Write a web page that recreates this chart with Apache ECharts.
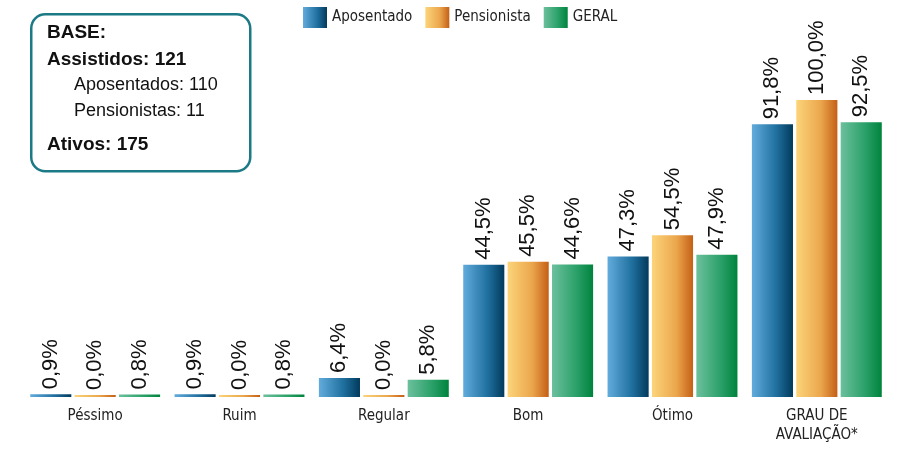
<!DOCTYPE html>
<html>
<head>
<meta charset="utf-8">
<title>Grau de avaliação</title>
<script src="https://cdn.jsdelivr.net/npm/echarts@6/dist/echarts.min.js"></script>
<style>
  html, body { margin: 0; padding: 0; background: #fff; }
  #main { width: 900px; height: 450px; }
</style>
</head>
<body>
<div id="main"></div>
<script type="text/javascript">
// dados
var categorias = ['Péssimo', 'Ruim', 'Regular', 'Bom', 'Ótimo', 'GRAU DE\nAVALIAÇÃO*'];
var aposentado = [0.9, 0.9, 6.4, 44.5, 47.3, 91.8];
var pensionista = [0.0, 0.0, 0.0, 45.5, 54.5, 100.0];
var geral = [0.8, 0.8, 5.8, 44.6, 47.9, 92.5];
var nomesSeries = ['Aposentado', 'Pensionista', 'GERAL'];
var baseLinhas = ['BASE:', 'Assistidos: 121', 'Aposentados: 110', 'Pensionistas: 11', 'Ativos: 175'];

var narrow = "'Liberation Sans Narrow', 'DejaVu Sans Condensed', sans-serif";

function grad(c1, c2, c3) {
	return {
		type: 'linear', x: 0, y: 0, x2: 1, y2: 0,
		colorStops: [
			{ offset: 0, color: c1 },
			{ offset: 0.6, color: c2 },
			{ offset: 1, color: c3 }
		]
	};
}
var cores = [
	grad('#62acdc', '#1f6f9e', '#023a5c'),
	grad('#fcd47a', '#eba64c', '#c45f16'),
	grad('#6cc09d', '#2aa068', '#00833d')
];

function fmt(p) {
	return p.value.toFixed(1).replace('.', ',') + '%';
}

var myChart = echarts.init(document.getElementById('main'));

var series = [aposentado, pensionista, geral].map(function (d, i) {
	return {
		name: nomesSeries[i],
		type: 'bar',
		data: d,
		barGap: '8%',
		barCategoryGap: '10%',
		barMinHeight: 2,
		itemStyle: { color: cores[i] },
		label: {
			show: true,
			position: 'top',
			rotate: 90,
			align: 'left',
			verticalAlign: 'middle',
			distance: 5,
			fontFamily: "'Liberation Sans', Arial, sans-serif",
			fontSize: 22,
			color: '#111',
			formatter: fmt
		}
	};
});

var boxTexts = [];
var ys = [33, 60, 86, 112, 145];
for (var i = 0; i < baseLinhas.length; i++) {
	var indent = (i == 2 || i == 3);
	boxTexts.push({
		type: 'text',
		left: indent ? 74 : 47,
		top: ys[i] - 10,
		style: {
			text: baseLinhas[i],
			fontFamily: "'Liberation Sans', Arial, sans-serif",
			fontSize: indent ? 18 : 19,
			fontWeight: indent ? 'normal' : 'bold',
			fill: '#111'
		}
	});
}

var option = {
	animation: false,
	legend: {
		data: nomesSeries,
		left: 298,
		top: 2,
		itemWidth: 24,
		itemHeight: 21,
		itemGap: 13,
		icon: 'rect',
		textStyle: { fontFamily: narrow, fontSize: 15, color: '#222' }
	},
	grid: { left: 23, right: 11, top: 100, bottom: 53 },
	xAxis: {
		type: 'category',
		data: categorias,
		axisLine: { show: false },
		axisTick: { show: false },
		axisLabel: {
			margin: 10,
			fontFamily: narrow,
			fontSize: 15,
			lineHeight: 19,
			color: '#222'
		}
	},
	yAxis: {
		type: 'value',
		min: 0,
		max: 100,
		show: false
	},
	graphic: [
		{
			type: 'rect',
			left: 30,
			top: 13,
			shape: { width: 219, height: 157, r: 14 },
			style: { fill: '#fff', stroke: '#1b7a85', lineWidth: 2.5 }
		}
	].concat(boxTexts),
	series: series
};
myChart.setOption(option);
</script>
</body>
</html>
